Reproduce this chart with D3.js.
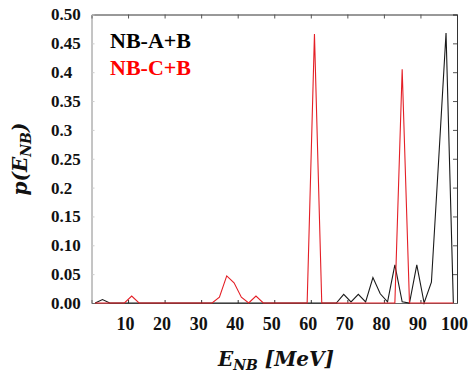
<!DOCTYPE html>
<html lang="en">
<head>
    <meta charset="UTF-8">
    <title>p(E_NB)</title>
    <script src="https://d3js.org/d3.v7.min.js"></script>
    <style>
        body { margin: 0; background: #fff; }
        svg { display: block; }
    </style>
</head>
<body>
    <svg id="chart" width="469" height="376"></svg>
    <script>
        // energies (MeV), sampled every 2 MeV
        const energies = [1, 3, 5, 7, 9, 11, 13, 15, 17, 19, 21, 23, 25, 27, 29, 31, 33, 35, 37, 39,
                          41, 43, 45, 47, 49, 51, 53, 55, 57, 59, 61, 63, 65, 67, 69, 71, 73, 75, 77, 79,
                          81, 83, 85, 87, 89, 91, 93, 95, 97, 99];
        const nbAB = [0, 0.006, 0, 0, 0, 0, 0, 0, 0, 0, 0, 0, 0, 0, 0, 0, 0, 0, 0, 0,
                      0, 0, 0, 0, 0, 0, 0, 0, 0, 0, 0, 0, 0, 0, 0.015, 0.002, 0.015, 0.002, 0.044, 0.016,
                      0.002, 0.066, 0.002, 0, 0.066, 0, 0.036, 0.25, 0.468, 0];
        const nbCB = [0, 0, 0, 0, 0, 0.012, 0, 0, 0, 0, 0, 0, 0, 0, 0, 0, 0, 0.01, 0.047, 0.035,
                      0.01, 0, 0.012, 0, 0, 0, 0, 0, 0, 0, 0.466, 0, 0, 0, 0, 0, 0, 0, 0, 0,
                      0, 0, 0.405, 0, 0, 0, 0, 0, 0, 0];
        const seriesNames = ["NB-A+B", "NB-C+B"];
        const seriesColors = ["#1a1a1a", "#e41f26"];
        const xTicks = [10, 20, 30, 40, 50, 60, 70, 80, 90, 100];
        const yTicks = [0, 0.05, 0.10, 0.15, 0.2, 0.25, 0.3, 0.35, 0.4, 0.45, 0.5];
        const yTickLabels = ["0.00", "0.05", "0.10", "0.15", "0.2", "0.25", "0.3", "0.35", "0.4", "0.45", "0.50"];

        const serif = "Liberation Serif";
        const mathFont = "DejaVu Serif";

        const margin = { top: 14.5, right: 12, bottom: 73, left: 91.5 };
        const width = 469, height = 376;
        const svg = d3.select("#chart");

        const x = d3.scaleLinear().domain([0, 100]).range([margin.left, width - margin.right]);
        const y = d3.scaleLinear().domain([0, 0.5]).range([height - margin.bottom, margin.top]);

        // frame + inward ticks
        const topAxis = svg.append("g")
            .attr("transform", `translate(0,${y(0.5)})`)
            .call(d3.axisTop(x).tickValues(xTicks).tickSize(-4).tickFormat(""));
        topAxis.select(".domain").attr("stroke", "#333");
        topAxis.selectAll(".tick line").attr("stroke", "#555");

        const rightAxis = svg.append("g")
            .attr("transform", `translate(${x(100)},0)`)
            .call(d3.axisRight(y).tickValues(yTicks).tickSize(-4).tickFormat(""));
        rightAxis.select(".domain").attr("stroke", "#333");
        rightAxis.selectAll(".tick line").attr("stroke", "#555");

        const leftAxis = svg.append("g")
            .attr("transform", `translate(${x(0)},0)`)
            .call(d3.axisLeft(y).tickValues(yTicks).tickSize(-3).tickPadding(0)
                .tickFormat((d, i) => yTickLabels[i]));
        leftAxis.select(".domain").attr("stroke", "#8a8a8a");
        leftAxis.selectAll(".tick line").attr("stroke", "#ccc");
        leftAxis.selectAll(".tick text")
            .attr("x", 51 - x(0))
            .attr("text-anchor", "start");

        const bottomAxis = svg.append("g")
            .attr("transform", `translate(0,${y(0)})`)
            .call(d3.axisBottom(x).tickValues(xTicks).tickSize(-3).tickPadding(14));
        bottomAxis.select(".domain").attr("stroke", "#666");
        bottomAxis.selectAll(".tick line").attr("stroke", "#333");
        bottomAxis.selectAll(".tick text").attr("x", -3);

        leftAxis.attr("font-family", serif).attr("font-size", 17).attr("font-weight", "bold");
        bottomAxis.attr("font-family", serif).attr("font-size", 18).attr("font-weight", "bold");
        svg.selectAll(".tick text").attr("fill", "#111");

        // series
        const line = d3.line()
            .x((d, i) => x(energies[i]))
            .y(d => y(d));

        [nbAB, nbCB].forEach((values, k) => {
            svg.append("path")
                .datum(values)
                .attr("fill", "none")
                .attr("stroke", seriesColors[k])
                .attr("stroke-width", 1.1)
                .attr("d", line);
        });

        // legend
        svg.selectAll(".legend")
            .data(seriesNames)
            .enter()
            .append("text")
            .attr("class", "legend")
            .attr("x", 110)
            .attr("y", (d, i) => 48 + i * 27)
            .attr("font-family", serif)
            .attr("font-size", 22)
            .attr("font-weight", "bold")
            .attr("fill", (d, i) => i === 0 ? "#000" : "#ff0000")
            .text(d => d);

        // axis titles
        const xt = svg.append("text")
            .attr("x", 276)
            .attr("y", 366)
            .attr("text-anchor", "middle")
            .attr("font-family", mathFont)
            .attr("font-weight", "bold")
            .attr("font-style", "italic")
            .attr("font-size", 20)
            .attr("fill", "#111");
        xt.append("tspan").text("E");
        xt.append("tspan").attr("dy", 4).attr("font-size", 14).text("NB");
        xt.append("tspan").attr("dy", -4).text(" [MeV]");

        const yt = svg.append("text")
            .attr("transform", "translate(27,159) rotate(-90)")
            .attr("text-anchor", "middle")
            .attr("font-family", mathFont)
            .attr("font-weight", "bold")
            .attr("font-style", "italic")
            .attr("font-size", 20)
            .attr("fill", "#111");
        yt.append("tspan").text("p(E");
        yt.append("tspan").attr("dy", 4).attr("font-size", 14).text("NB");
        yt.append("tspan").attr("dy", -4).text(")");
    </script>
</body>
</html>
